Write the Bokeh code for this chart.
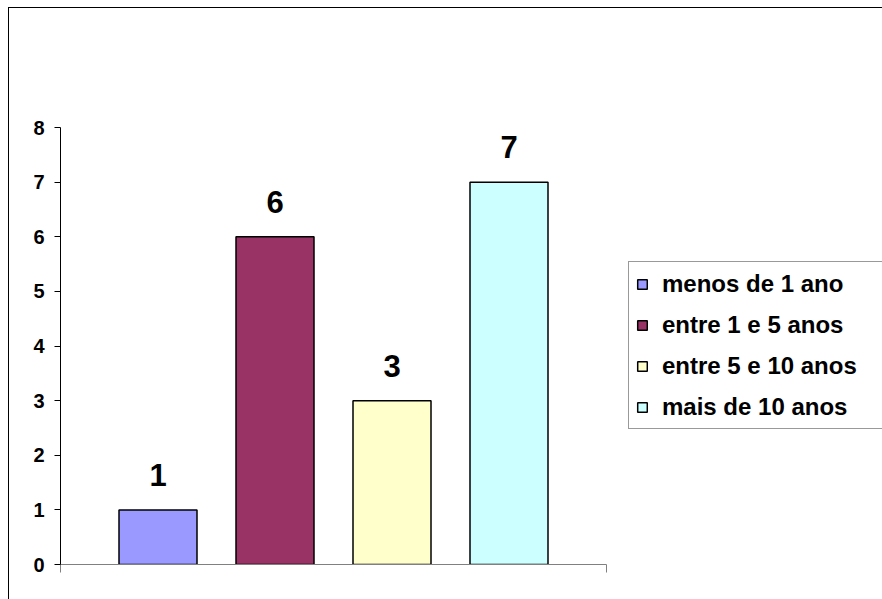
from bokeh.plotting import figure
from bokeh.models import FixedTicker, Legend, LegendItem, ColumnDataSource, Range1d
from bokeh.embed import file_html
from bokeh.resources import INLINE
from bokeh.core.properties import value

series = ["menos de 1 ano", "entre 1 e 5 anos", "entre 5 e 10 anos", "mais de 10 anos"]
counts = [1, 6, 3, 7]
colors = ["#9999FF", "#993366", "#FFFFCC", "#CCFFFF"]
y_ticks = [0, 1, 2, 3, 4, 5, 6, 7, 8]

FONT = "Liberation Sans"
W, H = 874, 592
LEFT, BOTTOM = 51, 36
bar_px = 78.0
y_px = 54.625
x_end = (W - LEFT) / bar_px
y_end = (H - BOTTOM) / y_px

# one category, 4 series; gap width 150%, bars separated by 50% of a bar width
gap, inner = 1.5, 0.5
xs = [gap / 2 + 0.5 + i * (1 + inner) for i in range(len(series))]
group_end = gap + len(series) + (len(series) - 1) * inner

p = figure(width=W, height=H, x_range=Range1d(0, x_end), y_range=Range1d(0, y_end),
           output_backend="svg", toolbar_location=None,
           min_border_left=LEFT, min_border_right=0, min_border_top=0, min_border_bottom=BOTTOM)
p.margin = (7, 0, 0, 8)
p.styles = {"border-top": "1px solid #000000", "border-left": "1px solid #000000"}
p.outline_line_color = None
p.xgrid.visible = False
p.ygrid.visible = False

items = []
for i, name in enumerate(series):
    r = p.vbar(x=[xs[i]], top=[counts[i]], bottom=0, width=1.0,
               fill_color=colors[i], line_color="#000000", line_width=1.5)
    items.append(LegendItem(label=name, renderers=[r]))

src = ColumnDataSource(dict(x=xs, y=counts, t=[str(c) for c in counts]))
p.text(x="x", y="y", text="t", source=src, text_align="center", text_baseline="alphabetic",
       y_offset=-35, text_font=value(FONT), text_font_style="bold", text_font_size="31px",
       text_color="#000000")

xa = p.xaxis[0]
xa.ticker = FixedTicker(ticks=[0, group_end])
xa.bounds = (0, group_end)
xa.axis_line_color = "#808080"
xa.major_tick_line_color = "#808080"
xa.major_tick_out = 8
xa.major_tick_in = 0
xa.minor_tick_line_color = None
xa.major_label_overrides = {0: "", group_end: ""}

ya = p.yaxis[0]
ya.ticker = FixedTicker(ticks=y_ticks)
ya.bounds = (y_ticks[0], y_ticks[-1])
ya.axis_line_color = "#000000"
ya.major_tick_line_color = "#000000"
ya.major_tick_out = 6
ya.major_tick_in = 0
ya.minor_tick_line_color = None
ya.major_label_standoff = 10
ya.major_label_text_font = FONT
ya.major_label_text_font_style = "bold"
ya.major_label_text_font_size = "20px"
ya.major_label_text_color = "#000000"

legend = Legend(items=items, location=(568, 135), orientation="vertical",
                padding=7, spacing=12, margin=0, label_height=29,
                glyph_height=12, glyph_width=12, label_standoff=14, label_width=240,
                border_line_color="#333333", border_line_width=1,
                background_fill_color="#FFFFFF", background_fill_alpha=1.0,
                label_text_font=FONT, label_text_font_style="bold",
                label_text_font_size="24px", label_text_color="#000000")
p.add_layout(legend, "center")

open("out.html", "w").write(file_html(p, INLINE))
